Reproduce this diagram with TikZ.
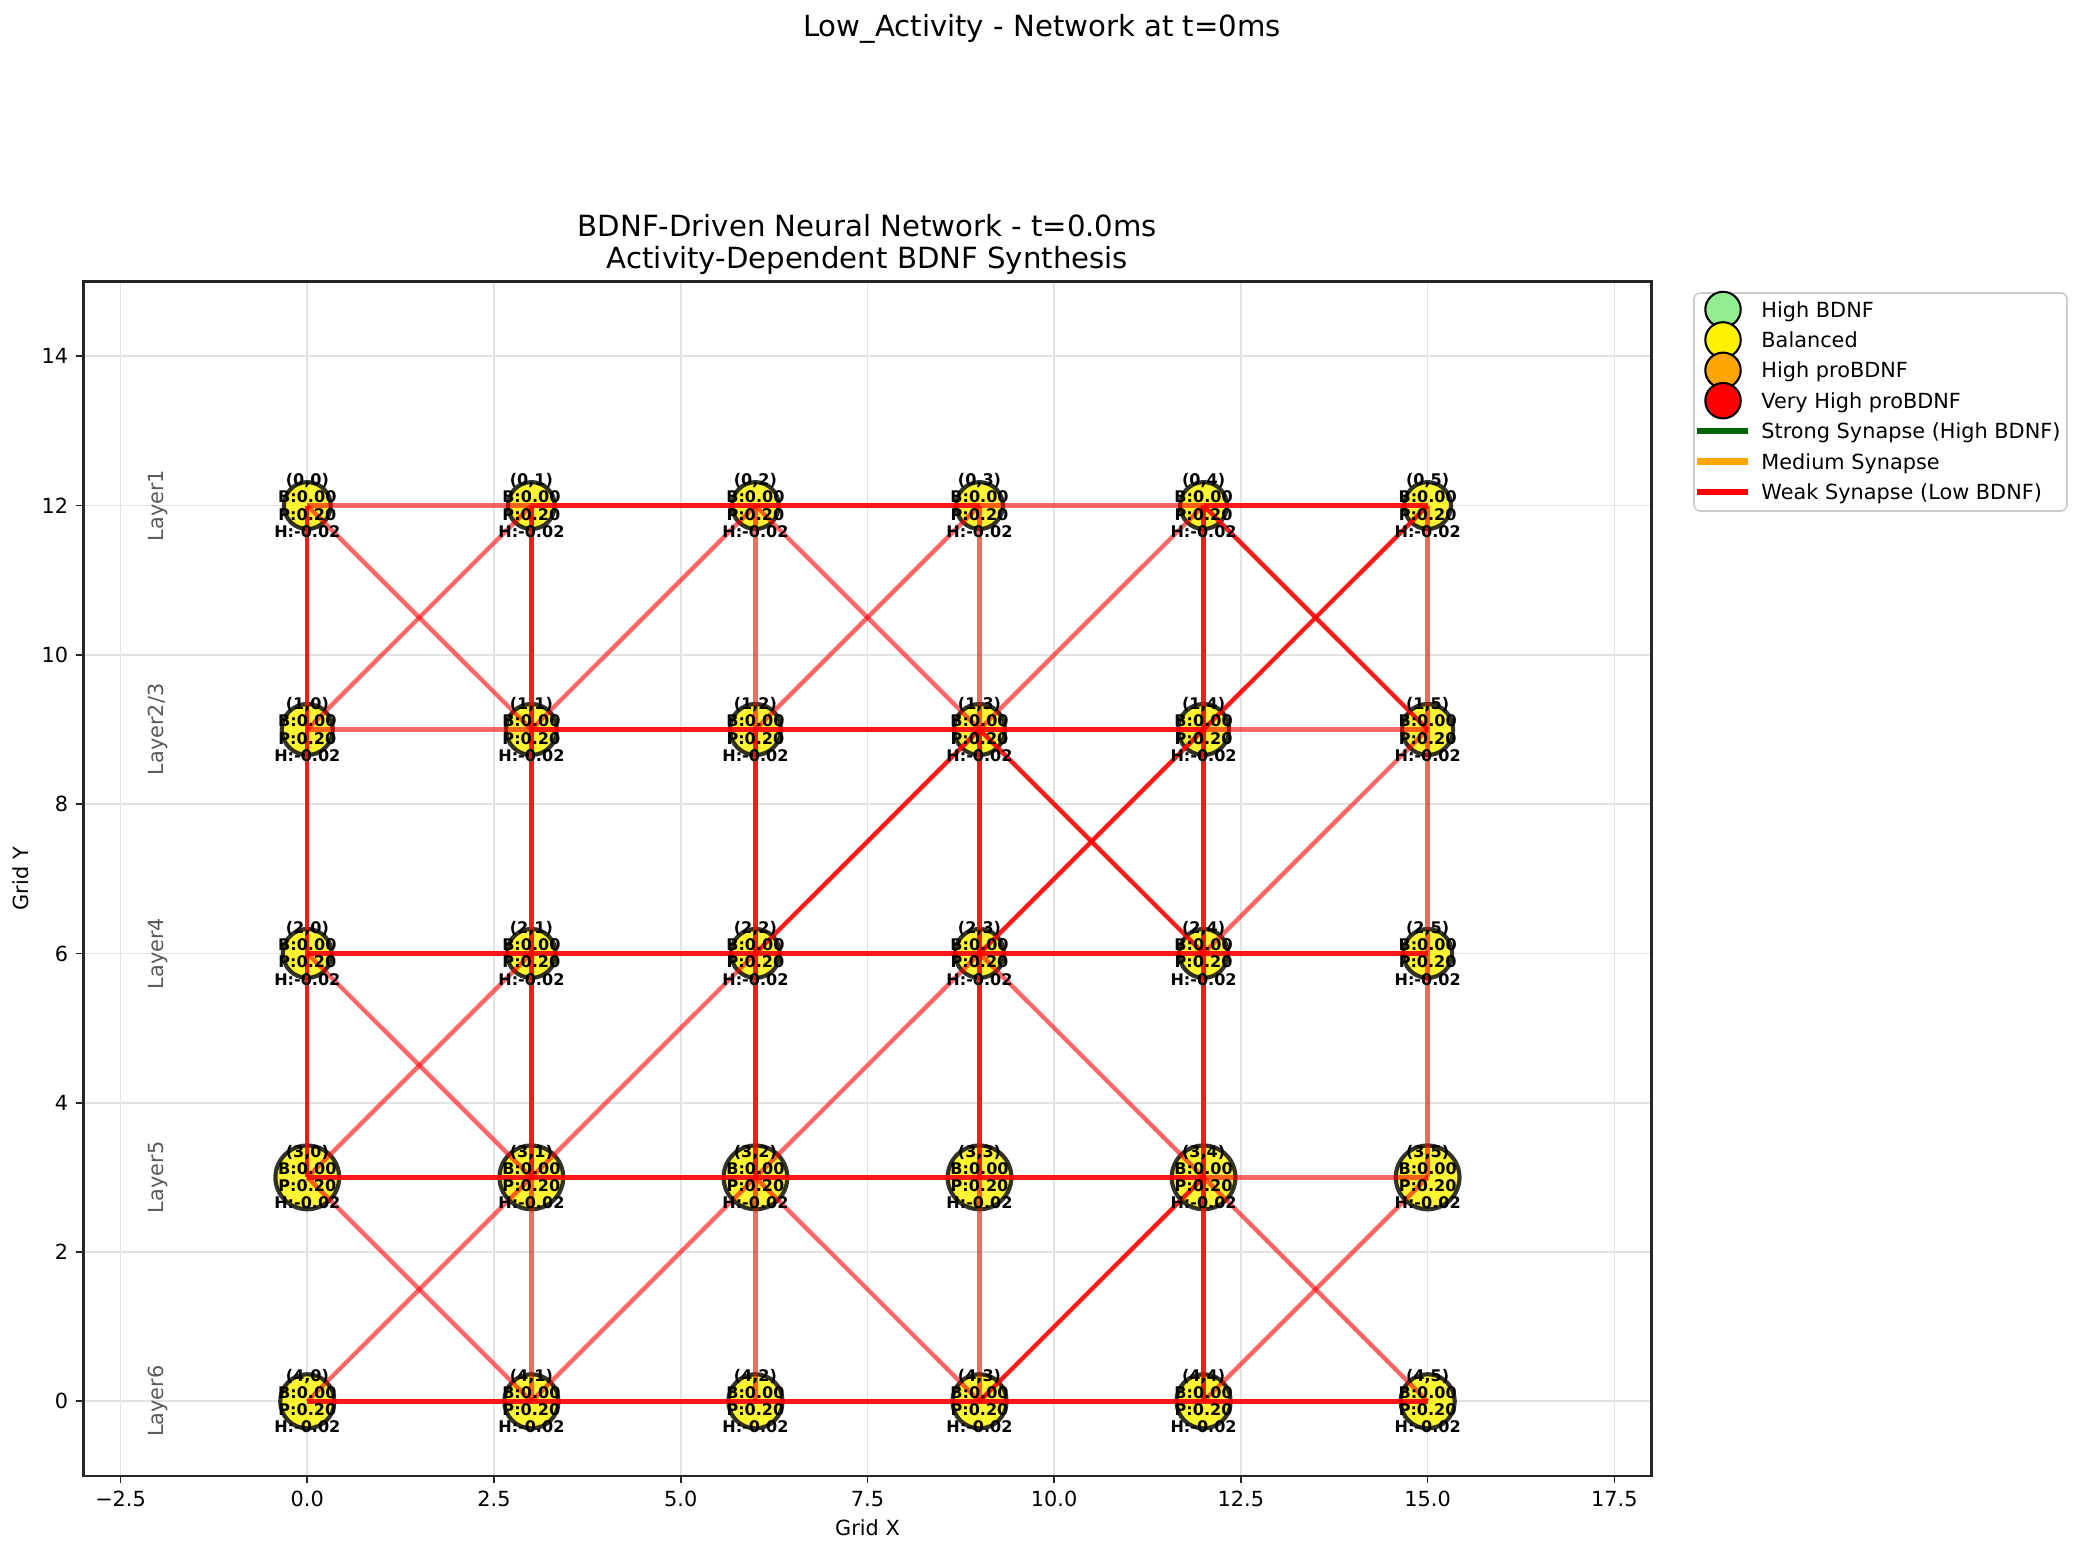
\documentclass[tikz,border=0pt]{standalone}
\usepackage{fontspec}
\setmainfont{DejaVu Sans}
\definecolor{lgreen}{HTML}{90EE90}
\definecolor{mplorange}{HTML}{FFA500}
\definecolor{dgreen}{HTML}{006400}
\definecolor{gridgray}{HTML}{E3E3E3}
\definecolor{spinegray}{HTML}{262626}
\definecolor{layergray}{HTML}{595959}
\definecolor{legendedge}{HTML}{CCCCCC}
\begin{document}
\begin{tikzpicture}[x=0.48pt,y=-0.48pt,
  gridln/.style={draw=gridgray, line width=0.8pt},
  spine/.style={draw=spinegray, line width=1.25pt},
  tickmark/.style={draw=spinegray, line width=0.8pt},
  ticklbl/.style={font=\fontsize{10}{12}\selectfont, inner sep=0pt},
  neuron/.style={circle, draw=black, fill=yellow, opacity=0.8, line width=2pt, inner sep=0pt},
  strongedge/.style={draw=red, opacity=0.9, line width=2.1pt},
  weakedge/.style={draw=red, opacity=0.6, line width=2.1pt},
  nlabel/.style={font=\fontsize{7.7}{8.2}\selectfont\bfseries, align=center, inner sep=0pt},
  layerlbl/.style={font=\fontsize{10}{12}\selectfont, text=layergray, rotate=90, inner sep=0pt},
  titlefont/.style={font=\fontsize{14}{16}\selectfont, inner sep=0pt},
  legmark/.style={circle, draw=black, line width=1pt, minimum size=17pt, inner sep=0pt},
  legtext/.style={font=\fontsize{10}{12}\selectfont, inner sep=0pt, anchor=base west},
  legline/.style={line width=3pt},
]
\useasboundingbox (0,0) rectangle (2081,1554);

% titles
\node[titlefont, anchor=base] (suptitle) at (1042,36) {Low\_Activity - Network at t=0ms};
\node[titlefont, anchor=base] (title1) at (867.5,236) {BDNF-Driven Neural Network - t=0.0ms};
\node[titlefont, anchor=base] (title2) at (867.5,268) {Activity-Dependent BDNF Synthesis};

% axis labels
\node[ticklbl, anchor=base] (xlabel) at (867.5,1535) {Grid X};
\node[ticklbl, anchor=base, rotate=90] (ylabel) at (28.2,878.7) {Grid Y};

\begin{scope}[shift={(307.3,1401.3)}, x={(35.85pt,0pt)}, y={(0pt,35.83pt)}]
  % grid
  \foreach \gx in {-2.5,0,2.5,5,7.5,10,12.5,15,17.5}
    \draw[gridln] (\gx,-1) -- (\gx,15);
  \foreach \gy in {0,2,...,14}
    \draw[gridln] (-3,\gy) -- (18,\gy);

  % neurons
  \foreach \r/\yy/\d in {0/12/22.5pt,1/9/24.5pt,2/6/23.5pt,3/3/30.6pt,4/0/26pt}
    \foreach \c in {0,...,5}
      \node[neuron, minimum size=\d] (n\r\c) at ({3*\c},\yy) {};

  % synapses
  \foreach \a/\b in {01/02,02/03,04/05,11/12,12/13,13/14,20/21,21/22,22/23,23/24,24/25,
                     30/31,31/32,32/33,33/34,40/41,41/42,42/43,43/44,44/45,
                     00/10,10/20,20/30,01/11,11/21,21/31,12/22,22/32,13/23,23/33,04/14,14/24,24/34,34/44,
                     14/05,04/15,22/13,13/24,23/14,43/34}
    \draw[strongedge] (n\a.center) -- (n\b.center);
  \foreach \a/\b in {00/01,03/04,10/11,14/15,34/35,
                     02/12,03/13,05/15,15/25,25/35,31/41,32/42,33/43,
                     00/11,10/01,11/02,02/13,12/03,13/04,24/15,20/31,30/21,31/22,32/23,23/34,
                     30/41,40/31,41/32,32/43,34/45,44/35}
    \draw[weakedge] (n\a.center) -- (n\b.center);

  % neuron labels
  \foreach \r in {0,...,4}
    \foreach \c in {0,...,5}
      \node[nlabel] (t\r\c) at (n\r\c.center) {(\r,\c)\\B:0.00\\P:0.20\\H:-0.02};

  % layer labels
  \node[layerlbl] (L1) at (-2,12) {Layer1};
  \node[layerlbl] (L23) at (-2,9) {Layer2/3};
  \node[layerlbl] (L4) at (-2,6) {Layer4};
  \node[layerlbl] (L5) at (-2,3) {Layer5};
  \node[layerlbl] (L6) at (-2,0) {Layer6};

  % ticks and tick labels
  \foreach \gx/\lab [count=\i] in {-2.5/{−2.5},0/{0.0},2.5/{2.5},5/{5.0},7.5/{7.5},10/{10.0},12.5/{12.5},15/{15.0},17.5/{17.5}}{
    \draw[tickmark] (\gx,-1) -- ++(0,-3.5pt);
    \node[ticklbl, anchor=north, yshift=-7pt] (xt\i) at (\gx,-1) {\lab};
  }
  \foreach \gy [count=\i] in {0,2,...,14}{
    \draw[tickmark] (-3,\gy) -- ++(-3.5pt,0);
    \node[ticklbl, anchor=east, xshift=-7pt] (yt\i) at (-3,\gy) {\gy};
  }

  % spines
  \draw[spine] (-3,-1) rectangle (18,15);
\end{scope}

% legend
\draw[draw=legendedge, fill=white, fill opacity=0.8, rounded corners=3pt, line width=0.8pt] (1694,293) rectangle (2067,511);
\node[legmark, fill=lgreen] (lm1) at (1723,309.5) {};
\node[legtext] (lt1) at (1761,317.1) {High BDNF};
\node[legmark, fill=yellow] (lm2) at (1723,339.9) {};
\node[legtext] (lt2) at (1761,347.5) {Balanced};
\node[legmark, fill=mplorange] (lm3) at (1723,370.3) {};
\node[legtext] (lt3) at (1761,377.9) {High proBDNF};
\node[legmark, fill=red] (lm4) at (1723,400.7) {};
\node[legtext] (lt4) at (1761,408.3) {Very High proBDNF};
\draw[legline, dgreen] (1697,431.1) -- (1748,431.1);
\node[legtext] (lt5) at (1761,438.7) {Strong Synapse (High BDNF)};
\draw[legline, mplorange] (1697,461.5) -- (1748,461.5);
\node[legtext] (lt6) at (1761,469.1) {Medium Synapse};
\draw[legline, red] (1697,491.9) -- (1748,491.9);
\node[legtext] (lt7) at (1761,499.5) {Weak Synapse (Low BDNF)};
\end{tikzpicture}
\end{document}
